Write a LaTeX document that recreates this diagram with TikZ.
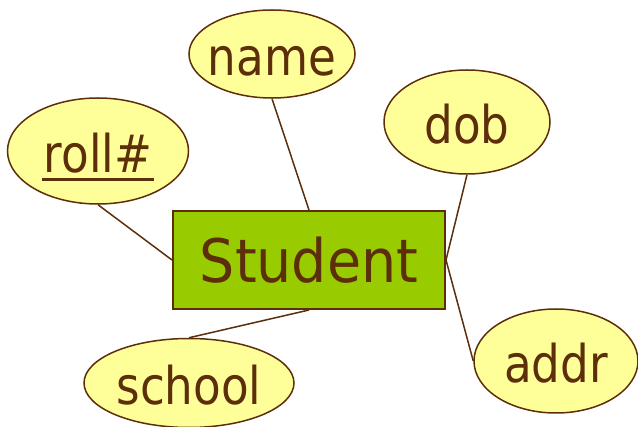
\documentclass[tikz,border=0pt]{standalone}
\usepackage{fontspec}
\setmainfont{DejaVu Sans}[FakeStretch=0.87]
\newfontfamily\entfont{DejaVu Sans}[FakeStretch=0.925]
\usepackage{tikz}
\usetikzlibrary{shapes.geometric}
\definecolor{erbrown}{RGB}{92,46,10}
\definecolor{attrfill}{RGB}{255,255,153}
\definecolor{entfill}{RGB}{153,204,0}
\newcommand{\keyul}[1]{\setbox0\hbox{#1}\rlap{\kern-2pt\rule[-8pt]{\dimexpr\wd0+4pt\relax}{3pt}}\box0}

\begin{document}
\begin{tikzpicture}[x=1pt,y=-1pt,
	attr/.style={ellipse, draw=erbrown, line width=1.5pt, fill=attrfill, text=erbrown,
		inner xsep=-30pt, inner ysep=0pt, font=\fontsize{52}{52}\selectfont, text height=44pt, text depth=0pt},
	entity/.style={rectangle, draw=erbrown, line width=2pt, fill=entfill, text=erbrown,
		inner sep=0pt, font=\entfont\fontsize{60}{60}\selectfont},
	link/.style={draw=erbrown, line width=1.5pt}]
	
	\useasboundingbox (0,0) rectangle (638,427);
	
	\node[entity, minimum width=272pt, minimum height=98pt] (Student) at (309,260) {Student};
	
	\node[attr, minimum width=166pt, minimum height=88pt] (name) at (272,54) {name};
	\node[attr, minimum width=166pt, minimum height=104pt] (dob) at (467,122) {dob};
	\node[attr, minimum width=181pt, minimum height=106pt] (roll) at (98,151) {\keyul{roll\#}};
	\node[attr, minimum width=164pt, minimum height=104pt] (addr) at (556,361) {addr};
	\node[attr, minimum width=210pt, minimum height=89pt] (school) at (189,383) {school};
	
	\draw[link] (roll.south) -- (Student.west);
	\draw[link] (name.south) -- (Student.north);
	\draw[link] (dob.south) -- (Student.east);
	\draw[link] (addr.west) -- (Student.east);
	\draw[link] (school.north) -- (Student.south);
	
\end{tikzpicture}
\end{document}
